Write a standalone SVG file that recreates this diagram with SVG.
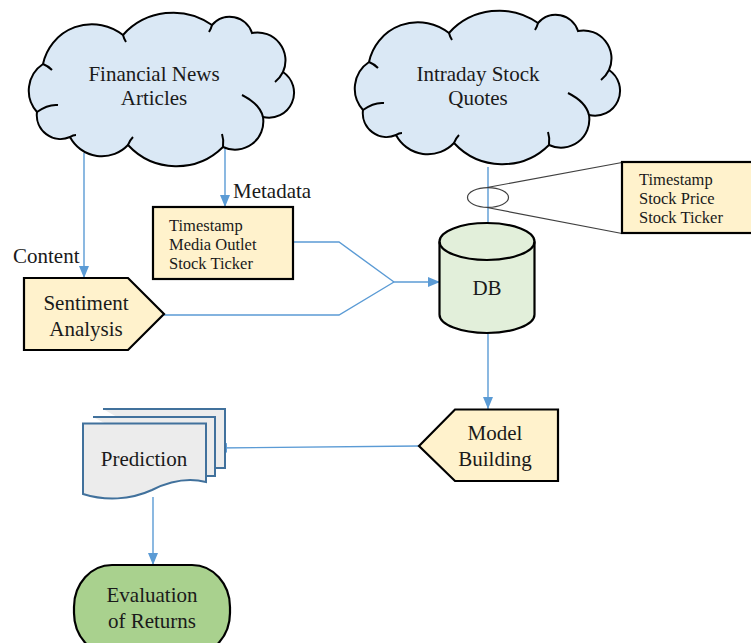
<svg xmlns="http://www.w3.org/2000/svg" width="751" height="643" viewBox="0 0 751 643">
<defs>
<style>
text{font-family:'Liberation Serif','Times New Roman','DejaVu Serif',serif;fill:#1a1a1a}
.lbl{font-size:21px}
.sm{font-size:16.5px}
.cloud{fill:#dae8f5;stroke:#000;stroke-width:2}
.hook{fill:none;stroke:#000;stroke-width:2}
.box{fill:#fff2cc;stroke:#000;stroke-width:2.2}
.con{fill:none;stroke:#5b9bd5;stroke-width:1.4}
.doc{fill:#ececec;stroke:#41719c;stroke-width:2}
.zoom{fill:none;stroke:#404040;stroke-width:1.2}
</style>
<marker id="ah" markerWidth="12" markerHeight="10" refX="12" refY="5" orient="auto" markerUnits="userSpaceOnUse">
<path d="M0,0 L12,5 L0,10 z" fill="#5b9bd5"/>
</marker>
<g id="cloudShape">
<path class="cloud" d="M43,64 A50,50 0 0 1 123,35 A67.5,67.5 0 0 1 212,25 A23.3,23.3 0 0 1 252,33 A28,28 0 0 1 283,72 A25,25 0 0 1 263,117 A28.3,28.3 0 0 1 223,147 A66,66 0 0 1 128,145 A36,36 0 0 1 70,137 A23.8,23.8 0 0 1 37,112 A32,32 0 0 1 43,64 Z"/>
<path class="hook" d="M43,64 Q48,66 52,70"/>
<path class="hook" d="M123,35 Q124,39 126,42"/>
<path class="hook" d="M212,25 Q211,29 209,32"/>
<path class="hook" d="M283,72 Q280,78 275,82"/>
<path class="hook" d="M263,117 Q260,104 242,95"/>
<path class="hook" d="M223,147 Q224,140 222,134"/>
<path class="hook" d="M128,145 Q130,140 133,137"/>
<path class="hook" d="M70,137 Q73,135 76,135"/>
<path class="hook" d="M37,112 Q48,104 58,105"/>
</g>
</defs>

<g id="connectors">
<line class="con" x1="84" y1="153" x2="84" y2="278" marker-end="url(#ah)"/>
<line class="con" x1="225" y1="148" x2="225" y2="207" marker-end="url(#ah)"/>
<polyline class="con" points="293,242 339,242 394,282"/>
<polyline class="con" points="164,315 339,315 394,282"/>
<line class="con" x1="394" y1="282" x2="440" y2="282" marker-end="url(#ah)"/>
<line class="con" x1="488" y1="167" x2="488" y2="242" marker-end="url(#ah)"/>
<line class="con" x1="488" y1="333" x2="488" y2="409" marker-end="url(#ah)"/>
<line class="con" x1="419" y1="446" x2="215" y2="448" marker-end="url(#ah)"/>
<line class="con" x1="153" y1="497" x2="153" y2="565" marker-end="url(#ah)"/>
</g>

<g id="news">
<use href="#cloudShape"/>
<text class="lbl" x="154" y="81" text-anchor="middle" font-family="Liberation Serif, serif">Financial News</text>
<text class="lbl" x="154" y="105" text-anchor="middle" font-family="Liberation Serif, serif">Articles</text>
</g>

<g id="quotes">
<use href="#cloudShape" transform="translate(326,-2)"/>
<text class="lbl" x="478" y="81" text-anchor="middle">Intraday Stock</text>
<text class="lbl" x="478" y="105" text-anchor="middle">Quotes</text>
</g>

<g id="label-metadata">
<text class="lbl" x="233" y="198">Metadata</text>
</g>
<g id="label-content">
<text class="lbl" x="13" y="263">Content</text>
</g>

<g id="metadata">
<rect class="box" x="153" y="207" width="140" height="72"/>
<text class="sm" x="169" y="231">Timestamp</text>
<text class="sm" x="169" y="250">Media Outlet</text>
<text class="sm" x="169" y="269">Stock Ticker</text>
</g>

<g id="sentiment">
<path class="box" d="M24,278 H128 L164,314 L128,350 H24 Z"/>
<text class="lbl" x="86" y="310" text-anchor="middle">Sentiment</text>
<text class="lbl" x="86" y="336" text-anchor="middle">Analysis</text>
</g>

<g id="zoom-detail">
<ellipse class="zoom" cx="488" cy="197.5" rx="20.5" ry="9.8"/>
<line class="zoom" x1="487" y1="187.5" x2="622" y2="162.5"/>
<line class="zoom" x1="487" y1="207.5" x2="622" y2="233.5"/>
</g>

<g id="quote-fields">
<rect class="box" x="622" y="162" width="132" height="71"/>
<text class="sm" x="639" y="185">Timestamp</text>
<text class="sm" x="639" y="204">Stock Price</text>
<text class="sm" x="639" y="223">Stock Ticker</text>
</g>

<g id="db">
<path d="M439.5,241.5 V314.5 A47.5,18.5 0 0 0 534.5,314.5 V241.5 A47.5,18.5 0 0 0 439.5,241.5 Z" fill="#e2efda" stroke="#000" stroke-width="2.2"/>
<path d="M439.5,241.5 A47.5,18.5 0 0 0 534.5,241.5" fill="none" stroke="#000" stroke-width="2.2"/>
<text class="lbl" x="487" y="295" text-anchor="middle">DB</text>
</g>

<g id="model">
<path class="box" d="M419,446 L455,409.5 H558 V481 H455 Z"/>
<text class="lbl" x="495" y="440" text-anchor="middle">Model</text>
<text class="lbl" x="495" y="466" text-anchor="middle">Building</text>
</g>

<g id="prediction">
<path class="doc" d="M103,409 H225 V468 H206"/>
<path class="doc" d="M93,417 H215 V476 H206"/>
<path class="doc" d="M83,423.5 H206 V482 C190,478 172,480 152,490 C130,500 105,501 83,494 Z"/>
<text class="lbl" x="144" y="466" text-anchor="middle">Prediction</text>
</g>

<g id="evaluation">
<rect x="74" y="565" width="156" height="90" rx="38" ry="42" fill="#a9d18e" stroke="#000" stroke-width="2.2"/>
<text class="lbl" x="152" y="602" text-anchor="middle">Evaluation</text>
<text class="lbl" x="152" y="628" text-anchor="middle">of Returns</text>
</g>
</svg>
